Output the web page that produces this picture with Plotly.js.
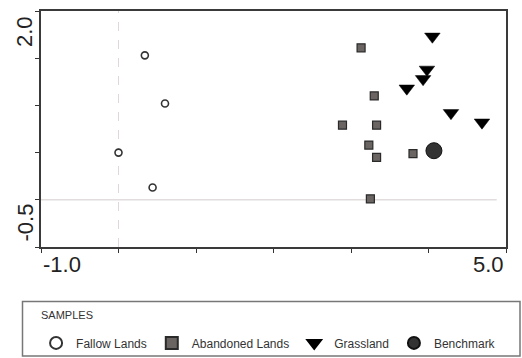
<!DOCTYPE html>
<html>
<head>
<meta charset="utf-8">
<script src="https://cdn.plot.ly/plotly-3.0.1.min.js"></script>
<style>
html,body{margin:0;padding:0;background:#fff;}
#chart{width:522px;height:358px;}
</style>
</head>
<body>
<div id="chart"></div>
<script>
// ---- data ----
const fallowX = [0.34, 0.60, 0.00, 0.44];
const fallowY = [1.53, 1.02, 0.50, 0.13];

const abandonedX = [3.13, 3.30, 2.89, 3.33, 3.23, 3.33, 3.80, 3.25];
const abandonedY = [1.61, 1.10, 0.79, 0.79, 0.58, 0.45, 0.49, 0.01];

const grassX = [4.05, 3.98, 3.93, 3.72, 4.29, 4.69];
const grassY = [1.73, 1.38, 1.28, 1.18, 0.92, 0.82];

const benchX = [4.07];
const benchY = [0.52];

const seriesNames = ['Fallow Lands', 'Abandoned Lands', 'Grassland', 'Benchmark'];
const legendTitle = 'SAMPLES';

const xTickVals = [-1, 0, 1, 2, 3, 4, 5];
const yTickVals = [-0.5, 0, 0.5, 1.0, 1.5, 2.0];
const xLabelVals = [-1, 5];
const xLabels = ['-1.0', '5.0'];
const yLabelVals = [-0.5, 2.0];
const yLabels = ['-0.5', '2.0'];

const narrow = '"Liberation Sans Narrow", "Liberation Sans", Arial, sans-serif';
const sans = '"Liberation Sans", Arial, sans-serif';

const traces = [
  {x: fallowX, y: fallowY, name: seriesNames[0], type: 'scatter', mode: 'markers',
   marker: {symbol: 'circle', size: 7, color: '#ffffff', line: {color: '#333', width: 1.6}}},
  {x: abandonedX, y: abandonedY, name: seriesNames[1], type: 'scatter', mode: 'markers',
   marker: {symbol: 'square', size: 8, color: '#6a6462', line: {color: '#2a2a2a', width: 1.2}}},
  {x: grassX, y: grassY, name: seriesNames[2], type: 'scatter', mode: 'markers',
   marker: {symbol: 'triangle-down', size: 13.5, color: '#000', line: {color: '#000', width: 0.5}}},
  {x: benchX, y: benchY, name: seriesNames[3], type: 'scatter', mode: 'markers',
   marker: {symbol: 'circle', size: 16, color: '#333', line: {color: '#111', width: 1}}}
];

const annotations = [];
xLabelVals.forEach((v, i) => {
  annotations.push({xref: 'x', yref: 'paper', x: v, y: 0, text: xLabels[i],
    xanchor: i === 0 ? 'left' : 'right', yanchor: 'top', yshift: -3, showarrow: false,
    font: {family: sans, size: 22, color: '#222'}});
});
yLabelVals.forEach((v, i) => {
  annotations.push({xref: 'paper', yref: 'y', x: 0, y: v, text: yLabels[i], textangle: -90,
    xanchor: 'right', yanchor: i === 0 ? 'bottom' : 'top', xshift: -2,
    yshift: i === 0 ? 3 : -3, showarrow: false,
    font: {family: sans, size: 22, color: '#222'}});
});
annotations.push({xref: 'paper', yref: 'paper', x: -0.004, y: -0.288, text: legendTitle,
  xanchor: 'left', yanchor: 'middle', showarrow: false,
  font: {family: narrow, size: 11, color: '#333'}});

const layout = {
  width: 522, height: 358,
  margin: {l: 41, r: 16, t: 11, b: 111, autoexpand: false},
  paper_bgcolor: '#fff', plot_bgcolor: '#fff',
  showlegend: true,
  legend: {orientation: 'h', x: -0.0106, y: -0.345, xanchor: 'left', yanchor: 'top',
    bgcolor: 'rgba(0,0,0,0)', borderwidth: 0, itemsizing: 'constant',
    font: {family: narrow, size: 12, color: '#333'}},
  xaxis: {range: [-1, 5], tickvals: xTickVals, showticklabels: false, ticks: 'outside',
    ticklen: 4, tickwidth: 1, tickcolor: '#333', showgrid: false, zeroline: false,
    showline: true, linecolor: '#3a3a3a', linewidth: 2, mirror: true, fixedrange: true},
  yaxis: {range: [-0.5, 2.0], tickvals: yTickVals, showticklabels: false, ticks: 'outside',
    ticklen: 4, tickwidth: 1, tickcolor: '#333', showgrid: false, zeroline: false,
    showline: true, linecolor: '#3a3a3a', linewidth: 2, mirror: true, fixedrange: true},
  shapes: [
    {type: 'line', xref: 'x', yref: 'paper', x0: 0, x1: 0, y0: 0, y1: 1,
     line: {color: '#e0d8d8', width: 1, dash: 'dash'}, layer: 'below'},
    {type: 'line', xref: 'x', yref: 'y', x0: -1, x1: 4.88, y0: 0, y1: 0,
     line: {color: '#e2dcdc', width: 1.5}, layer: 'below'},
    {type: 'rect', xref: 'paper', yref: 'paper',
     x0: (22.5 - 41) / 465, x1: (520 - 41) / 465, y0: -(356 - 247) / 236, y1: -(301.5 - 247) / 236,
     line: {color: '#777', width: 1.5}, fillcolor: 'rgba(0,0,0,0)'}
  ],
  annotations: annotations
};

Plotly.newPlot('chart', traces, layout, {displayModeBar: false, staticPlot: true});
</script>
</body>
</html>
